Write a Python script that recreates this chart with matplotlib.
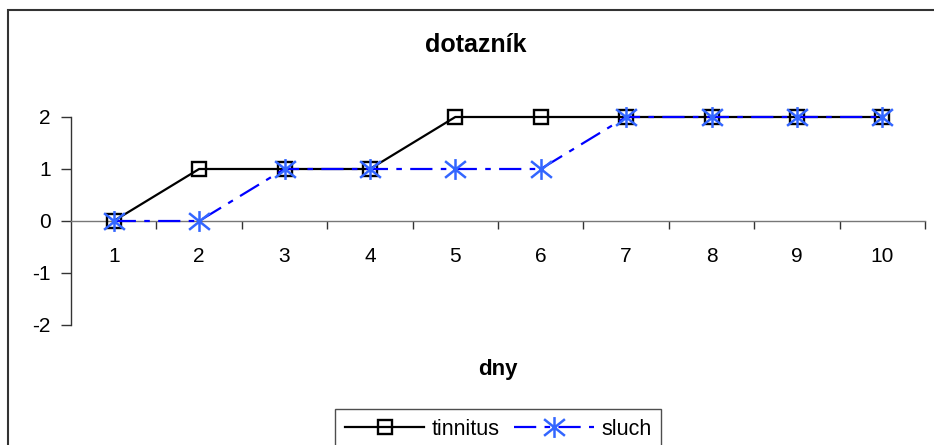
import matplotlib
matplotlib.use("Agg")
import matplotlib.pyplot as plt
from matplotlib.path import Path
from matplotlib.patches import Rectangle

plt.rcParams['font.family'] = ['Liberation Sans', 'DejaVu Sans']

days = [1, 2, 3, 4, 5, 6, 7, 8, 9, 10]
tinnitus = [0, 1, 1, 1, 2, 2, 2, 2, 2, 2]
sluch = [0, 0, 1, 1, 1, 1, 2, 2, 2, 2]
y_ticks = [-2, -1, 0, 1, 2]
title = "dotazník"
xlabel = "dny"

W, H = 934, 445
fig = plt.figure(figsize=(W / 100, H / 100), dpi=100)
ax = fig.add_axes([71 / W, 1 - 325 / H, (925 - 71) / W, (325 - 117) / H])

# asterisk marker: vertical bar + X
star = Path([(0, -1), (0, 1), (-1, -0.8), (1, 0.8), (-1, 0.8), (1, -0.8)],
            [Path.MOVETO, Path.LINETO, Path.MOVETO, Path.LINETO, Path.MOVETO, Path.LINETO])

lw = 1.6
ax.plot(days, tinnitus, color='black', lw=lw, marker='s', markersize=10.5,
        markerfacecolor='none', markeredgecolor='black', markeredgewidth=1.7,
        label='tinnitus', zorder=3, clip_on=False)
ax.plot(days, sluch, color='#0000FF', lw=lw,
        linestyle=(0, (16 / lw, 6 / lw, 4 / lw, 6 / lw)),
        marker=star, markersize=15, markeredgecolor='#3366FF', markeredgewidth=1.8,
        label='sluch', zorder=4, clip_on=False)

ax.set_xlim(0.5, 10.5)
ax.set_ylim(-2, 2)
for s in ['top', 'right']:
    ax.spines[s].set_visible(False)
ax.spines['left'].set_color('#333333')
ax.spines['left'].set_linewidth(1)
ax.spines['bottom'].set_position(('data', 0))
ax.spines['bottom'].set_color('#777777')
ax.spines['bottom'].set_linewidth(1)

ax.set_xticks([d + 0.5 for d in days])
ax.set_xticklabels([])
ax.set_xticks(days, minor=True)
ax.set_xticklabels([str(d) for d in days], minor=True)
ax.tick_params(axis='x', which='major', direction='out', length=6, width=1, color='#333333')
ax.tick_params(axis='x', which='minor', length=0, pad=18.5, labelsize=15)
ax.set_yticks(y_ticks)
ax.set_yticklabels([str(v) for v in y_ticks])
ax.tick_params(axis='y', direction='out', length=7.5, width=1, color='#333333', pad=7, labelsize=15)

fig.text(476 / W, 1 - 52 / H, title, ha='center', va='baseline', fontsize=18, fontweight='bold')
fig.text(498 / W, 1 - 375 / H, xlabel, ha='center', va='baseline', fontsize=16, fontweight='bold')

leg = fig.legend(loc='upper center', bbox_to_anchor=(498 / W, 1 - 409 / H), ncol=2,
                 fontsize=15.5, handlelength=3.7, handletextpad=0.35, columnspacing=0.65,
                 frameon=True, fancybox=False, borderpad=0.45, borderaxespad=0)
leg.get_frame().set_edgecolor('#222222')
leg.get_frame().set_linewidth(1)

fig.add_artist(Rectangle((8 / W, -0.1), 1.1, 1 - 10 / H + 0.1, transform=fig.transFigure,
                         fill=False, lw=1.5, ec='#333333', clip_on=False))

fig.savefig('out.png', dpi=100)
